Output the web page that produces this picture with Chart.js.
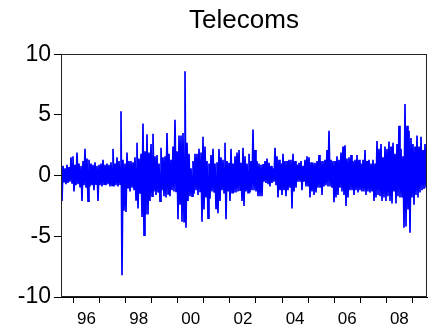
<!DOCTYPE html>
<html>
<head>
<meta charset="utf-8">
<script src="https://cdn.jsdelivr.net/npm/chart.js@4.4.0/dist/chart.umd.min.js"></script>
<style>
  body { margin: 0; background: #fff; }
  #wrap { width: 438px; height: 334px; }
</style>
</head>
<body>
<div id="wrap"><canvas id="telecomsChart" width="438" height="334"></canvas></div>
<script>
// Telecoms daily returns (%), sampled mid 1995 to mid 2009
const returns = [
  0.9, -2.1, 0.8, -0.5, 0.6, -0.7, 0.9, -0.6, 0.7, -0.5,
  1.5, -0.6, 1.6, -1.3, 0.9, -0.8, 1.9, -0.7, 1.0, -0.9,
  0.8, -2.1, 1.2, -0.8, 2.2, -1.0, 1.4, -2.1, 1.3, -0.9,
  1.0, -0.8, 0.9, -1.2, 1.1, -0.7, 0.8, -2.1, 0.9, -0.8,
  1.0, -0.9, 1.3, -0.7, 0.9, -0.8, 1.0, -0.7, 0.9, -0.9,
  1.1, -0.8, 2.2, -0.9, 1.0, -0.8, 1.5, -0.9, 1.2, -0.7,
  5.3, -8.2, 1.3, -2.9, 1.0, -3.0, 1.9, -1.0, 1.2, -1.3,
  1.2, -1.0, 1.1, -1.2, 1.5, -2.0, 2.7, -2.7, 1.4, -1.5,
  1.8, -3.4, 4.3, -4.9, 2.0, -3.2, 3.4, -3.2, 1.9, -2.1,
  2.6, -1.7, 3.45, -1.3, 1.6, -1.6, 1.7, -1.4, 1.0, -2.1,
  2.3, -1.2, 1.5, -1.7, 1.6, -1.8, 3.5, -1.5, 1.8, -1.7,
  1.3, -1.2, 2.4, -1.3, 4.6, -1.3, 2.0, -3.6, 3.3, -2.4,
  3.3, -3.8, 3.5, -3.8, 8.6, -4.3, 2.7, -2.1, 1.8, -1.7,
  0.6, -1.7, 1.2, -1.5, 1.8, -1.2, 1.8, -1.6, 2.2, -1.3,
  1.9, -3.8, 3.2, -2.8, 2.4, -1.8, 1.2, -3.5, 1.0, -1.9,
  1.7, -1.3, 2.2, -1.4, 1.0, -2.7, 1.1, -3.1, 2.2, -2.1,
  1.5, -1.2, 1.3, -1.4, 2.7, -3.6, 1.2, -1.3, 1.05, -2.1,
  2.2, -1.4, 1.0, -1.4, 1.6, -1.4, 1.9, -1.3, 2.1, -1.2,
  1.05, -2.1, 2.3, -2.5, 1.6, -1.3, 1.0, -1.4, 1.8, -1.4,
  1.2, -1.2, 3.8, -1.2, 2.1, -1.3, 1.2, -1.7, 1.0, -1.7,
  0.9, -1.7, 0.95, -0.5, 1.2, -0.6, 1.4, -0.7, 1.05, -0.9,
  0.8, -0.6, 0.6, -0.5, 2.3, -0.8, 1.6, -1.8, 1.3, -1.2,
  1.0, -1.6, 1.8, -1.2, 1.2, -1.7, 1.2, -1.2, 1.3, -1.0,
  1.3, -2.7, 1.8, -1.3, 1.2, -1.0, 0.9, -0.5, 1.05, -0.5,
  1.2, -1.2, 0.8, -0.5, 1.3, -0.9, 1.6, -0.9, 1.5, -1.8,
  1.1, -1.3, 1.05, -1.6, 1.05, -1.4, 1.2, -1.0, 1.7, -1.0,
  1.2, -1.6, 1.2, -0.9, 1.3, -0.8, 2.1, -0.9, 3.7, -0.9,
  1.3, -1.0, 1.2, -2.2, 1.2, -1.8, 1.6, -1.6, 1.3, -1.0,
  1.9, -1.3, 2.4, -1.6, 2.5, -2.5, 1.4, -1.8, 1.5, -1.2,
  1.7, -1.2, 1.2, -1.6, 1.3, -1.2, 1.7, -1.4, 1.3, -1.2,
  1.0, -1.3, 1.3, -1.3, 2.1, -1.6, 1.2, -1.3, 1.3, -1.4,
  1.0, -1.3, 1.3, -2.1, 1.0, -1.8, 2.85, -1.6, 2.2, -1.7,
  2.6, -2.1, 1.5, -1.8, 2.4, -2.1, 2.2, -1.7, 2.8, -2.1,
  2.4, -2.3, 2.7, -1.3, 1.8, -2.3, 2.6, -1.7, 4.1, -1.8,
  2.2, -1.8, 1.6, -4.3, 5.9, -4.2, 4.1, -2.8, 3.7, -4.7,
  3.1, -1.8, 2.6, -2.4, 2.4, -1.6, 3.3, -1.8, 2.4, -1.4,
  3.2, -1.2, 2.1, -1.1, 2.6, -1.0, 1.8
];

// sample period, in decimal years
const firstDate = 1995.52;
const lastDate = 2009.56;

// year boundaries get tick marks, every second year gets a label in mid-year
const yearTicks = [1996, 1997, 1998, 1999, 2000, 2001, 2002, 2003, 2004, 2005, 2006, 2007, 2008, 2009];
const labelYears = [1996, 1998, 2000, 2002, 2004, 2006, 2008];
const yearLabels = ['96', '98', '00', '02', '04', '06', '08'];
const yTicks = [-10, -5, 0, 5, 10];

const FONT = '"Liberation Sans", Arial, sans-serif';

const step = (lastDate - firstDate) / (returns.length - 1);
const points = returns.map((v, i) => ({ x: firstDate + i * step, y: v }));

// box round the plot area
const frame = {
  id: 'frame',
  afterDraw(chart) {
    const { ctx, chartArea: a } = chart;
    ctx.save();
    ctx.strokeStyle = '#222';
    ctx.lineWidth = 1;
    ctx.strokeRect(Math.round(a.left) + 0.5, Math.round(a.top) + 0.5,
      Math.round(a.right - a.left) - 1, Math.round(a.bottom - a.top) - 1);
    ctx.restore();
  }
};

const ctx = document.getElementById('telecomsChart').getContext('2d');
new Chart(ctx, {
  type: 'line',
  data: {
    datasets: [{
      label: 'Telecoms',
      data: points,
      borderColor: '#0000ff',
      borderWidth: 1.7,
      pointRadius: 0,
      tension: 0
    }]
  },
  options: {
    responsive: false,
    animation: false,
    devicePixelRatio: 1,
    layout: { padding: { top: 0, right: 11, bottom: 0, left: 0 } },
    plugins: {
      legend: { display: false },
      tooltip: { enabled: false },
      title: {
        display: true,
        text: 'Telecoms',
        fullSize: false,
        color: '#000',
        font: { family: FONT, size: 26, weight: 'normal' },
        padding: { top: 5, bottom: 18 }
      }
    },
    scales: {
      x: {
        type: 'linear',
        min: firstDate,
        max: lastDate,
        afterBuildTicks(scale) {
          const ticks = yearTicks.map(v => ({ value: v }));
          labelYears.forEach(y => ticks.push({ value: y + 0.5 }));
          ticks.sort((a, b) => a.value - b.value);
          scale.ticks = ticks;
        },
        afterFit(scale) { scale.height = 37; },
        ticks: {
          autoSkip: false,
          maxRotation: 0,
          padding: 6,
          color: '#000',
          font: { family: FONT, size: 17 },
          callback(value) {
            const i = labelYears.indexOf(value - 0.5);
            return i >= 0 ? yearLabels[i] : '';
          }
        },
        grid: {
          drawOnChartArea: false,
          drawTicks: true,
          tickLength: 6,
          tickColor: c => (c.tick && Number.isInteger(c.tick.value)) ? '#000' : 'rgba(0,0,0,0)'
        },
        border: { color: '#000', width: 1 }
      },
      y: {
        min: -10,
        max: 10,
        afterBuildTicks(scale) {
          scale.ticks = yTicks.map(v => ({ value: v }));
        },
        afterFit(scale) { scale.width = 61; },
        ticks: {
          padding: 3,
          color: '#000',
          font: { family: FONT, size: 23 },
          callback: v => String(v)
        },
        grid: {
          drawOnChartArea: false,
          drawTicks: true,
          tickLength: 7,
          tickColor: '#000'
        },
        border: { color: '#000', width: 1 }
      }
    }
  },
  plugins: [frame]
});
</script>
</body>
</html>
